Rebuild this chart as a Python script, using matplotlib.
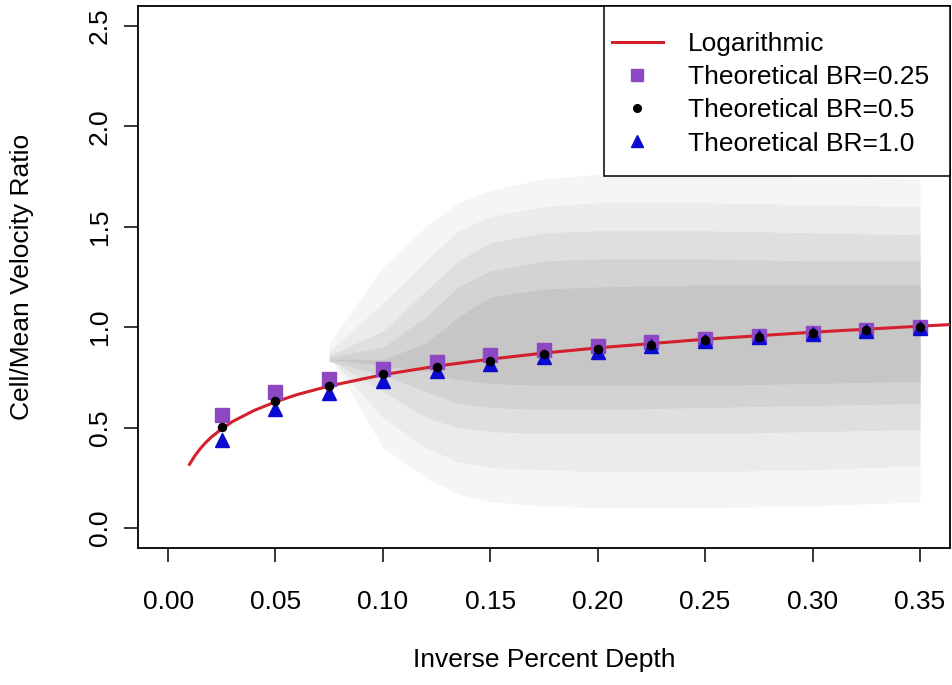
import matplotlib
matplotlib.use("Agg")
import matplotlib.pyplot as plt
from matplotlib.patches import Rectangle
from matplotlib.lines import Line2D

plt.rcParams['font.family'] = ['Liberation Sans', 'DejaVu Sans']

# ---- data ----
theo_x = [0.025, 0.05, 0.075, 0.10, 0.125, 0.15, 0.175, 0.20, 0.225, 0.25, 0.275, 0.30, 0.325, 0.35]
br025 = [0.565, 0.678, 0.740, 0.793, 0.825, 0.859, 0.884, 0.905, 0.925, 0.942, 0.958, 0.973, 0.987, 1.000]
br05 = [0.504, 0.633, 0.707, 0.768, 0.800, 0.834, 0.865, 0.890, 0.913, 0.935, 0.953, 0.970, 0.985, 1.000]
br10 = [0.438, 0.592, 0.670, 0.732, 0.784, 0.818, 0.851, 0.876, 0.905, 0.930, 0.950, 0.968, 0.983, 0.998]

log_x = [0.010, 0.0125, 0.015, 0.0175, 0.020, 0.025, 0.030, 0.040, 0.050, 0.060, 0.075,
         0.100, 0.125, 0.150, 0.175, 0.200, 0.250, 0.300, 0.350, 0.364]
log_y = [0.317, 0.360, 0.395, 0.425, 0.451, 0.494, 0.530, 0.585, 0.628, 0.664, 0.707,
         0.763, 0.806, 0.841, 0.871, 0.897, 0.940, 0.975, 1.005, 1.013]

# observed cloud summarised as density envelopes (faint -> dense) per x
cloud_x = [0.075, 0.100, 0.120, 0.135, 0.150, 0.175, 0.200, 0.250, 0.300, 0.350]
band1_lo = [0.86, 0.40, 0.25, 0.17, 0.13, 0.11, 0.10, 0.10, 0.11, 0.13]
band1_hi = [0.92, 1.30, 1.50, 1.62, 1.68, 1.74, 1.76, 1.76, 1.75, 1.74]
band2_lo = [0.85, 0.55, 0.40, 0.33, 0.30, 0.29, 0.28, 0.28, 0.29, 0.31]
band2_hi = [0.88, 1.12, 1.33, 1.48, 1.55, 1.60, 1.62, 1.62, 1.61, 1.60]
band3_lo = [0.84, 0.68, 0.55, 0.50, 0.48, 0.47, 0.47, 0.47, 0.48, 0.49]
band3_hi = [0.86, 0.98, 1.18, 1.33, 1.42, 1.47, 1.48, 1.48, 1.47, 1.46]
band4_lo = [0.83, 0.76, 0.68, 0.62, 0.60, 0.59, 0.59, 0.60, 0.61, 0.62]
band4_hi = [0.85, 0.90, 1.05, 1.20, 1.28, 1.33, 1.34, 1.34, 1.33, 1.33]
band5_lo = [0.84, 0.81, 0.78, 0.74, 0.72, 0.71, 0.71, 0.71, 0.72, 0.73]
band5_hi = [0.84, 0.84, 0.92, 1.05, 1.15, 1.19, 1.20, 1.21, 1.21, 1.21]
band_colors = ['#f5f5f5', '#ebebeb', '#dfdfdf', '#d3d3d3', '#c6c6c6']

xticks = [0.00, 0.05, 0.10, 0.15, 0.20, 0.25, 0.30, 0.35]
xticklabels = ["0.00", "0.05", "0.10", "0.15", "0.20", "0.25", "0.30", "0.35"]
yticks = [0.0, 0.5, 1.0, 1.5, 2.0, 2.5]
yticklabels = ["0.0", "0.5", "1.0", "1.5", "2.0", "2.5"]

W, H = 952, 685
fig = plt.figure(figsize=(W / 100, H / 100), dpi=100)
L, R, T, B = 138, 950, 6, 548
ax = fig.add_axes([L / W, 1 - B / H, (R - L) / W, (B - T) / H])
ax.set_xlim(-0.014, 0.364)
ax.set_ylim(-0.1, 2.6)

bands = [(band1_lo, band1_hi), (band2_lo, band2_hi), (band3_lo, band3_hi),
         (band4_lo, band4_hi), (band5_lo, band5_hi)]
for (lo, hi), c in zip(bands, band_colors):
    ax.fill_between(cloud_x, lo, hi, color=c, lw=0, zorder=1)

ax.plot(log_x, log_y, color='#d3202c', lw=2.2, zorder=3, label='Logarithmic')
ax.plot(theo_x, br025, ls='none', marker='s', ms=9.5, color='#8e48c4', zorder=4,
        label='Theoretical BR=0.25')
ax.plot(theo_x, br05, ls='none', marker='o', ms=5.8, color='black', zorder=5,
        label='Theoretical BR=0.5')
ax.plot(theo_x, br10, ls='none', marker='^', ms=10.5, color='#0a0ad0', zorder=4,
        label='Theoretical BR=1.0')

for s in ax.spines.values():
    s.set_linewidth(1.3)
ax.set_xticks(xticks)
ax.set_xticklabels(xticklabels)
ax.set_yticks(yticks)
ax.set_yticklabels(yticklabels, rotation=90, va='center')
ax.tick_params(axis='both', labelsize=19, length=10, width=1.1, direction='out')
ax.tick_params(axis='x', pad=20)
ax.tick_params(axis='y', pad=9)

fig.text((L + R) / 2 / W, 1 - 660 / H, 'Inverse Percent Depth', ha='center', va='center', fontsize=19)
fig.text(22 / W, 1 - (T + B) / 2 / H, 'Cell/Mean Velocity Ratio', ha='center', va='center',
         rotation=90, fontsize=19)

# legend box
bx0 = (604 - L) / (R - L)
by0 = (B - 176) / (B - T)
ax.add_patch(Rectangle((bx0, by0), 1 - bx0, 1 - by0, transform=ax.transAxes,
                       facecolor='white', edgecolor='black', lw=1.1, zorder=6, clip_on=False))
handles = [Line2D([], [], color='#d3202c', lw=2.2),
           Line2D([], [], ls='none', marker='s', ms=8, color='#8e48c4'),
           Line2D([], [], ls='none', marker='o', ms=5.5, color='black'),
           Line2D([], [], ls='none', marker='^', ms=9, color='#0a0ad0')]
labels = ['Logarithmic', 'Theoretical BR=0.25', 'Theoretical BR=0.5', 'Theoretical BR=1.0']
leg = ax.legend(handles, labels, loc='upper left',
                bbox_to_anchor=((612 - L) / (R - L), (B - 32) / (B - T)),
                frameon=False, fontsize=19, borderpad=0, borderaxespad=0,
                handlelength=1.93, handletextpad=0.95, labelspacing=0.35)
leg.set_zorder(7)

fig.savefig('out.png', dpi=100)
